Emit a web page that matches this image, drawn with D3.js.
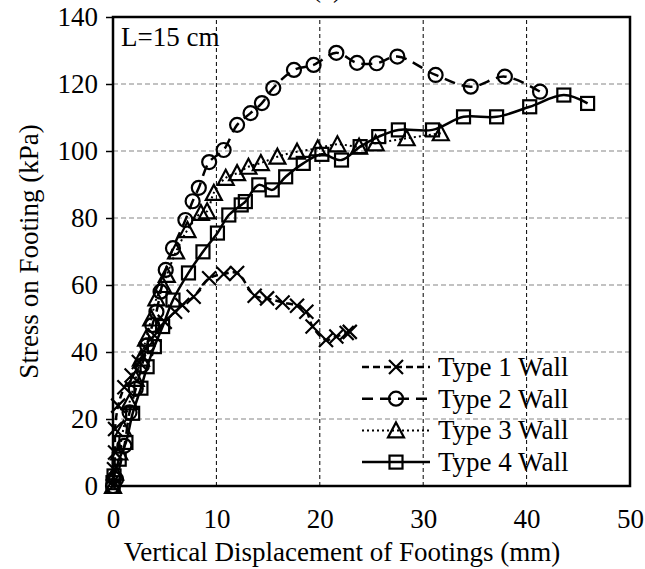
<!DOCTYPE html>
<html>
<head>
<meta charset="utf-8">
<script src="https://cdn.jsdelivr.net/npm/d3@7"></script>
<style>
  body { margin: 0; background: #fff; }
  svg text { font-family: "Liberation Serif", "Times New Roman", serif; fill: #000; }
</style>
</head>
<body>
<div id="chart"></div>
<script>
// displacement (mm) vs stress (kPa)
const type1 = [[0,0],[0.1,5],[0.2,10],[0.2,17],[0.5,24],[1.1,29.5],[1.8,33],[2.5,37],[3.2,41],[4.0,45],[5.0,49],[6.0,52],[6.7,54],[7.8,56.5],[9.3,62],[10.7,63.3],[12.0,63.6],[13.7,56.8],[14.9,56],[16.4,54.8],[17.8,53.8],[18.7,52],[19.3,47.6],[20.6,43.6],[21.6,44.6],[22.6,45.7],[22.9,46]];
const type2 = [[0,0],[0.3,2],[1.1,12],[1.6,22],[2.2,29],[2.8,36],[3.3,42],[3.8,48],[4.2,52],[4.6,58],[5.1,64.5],[5.8,71],[7.0,79.4],[7.7,85],[8.3,89],[9.3,96.7],[10.7,100.3],[12.0,107.8],[13.3,111.3],[14.4,114.3],[15.5,118.8],[17.5,124.2],[19.4,125.7],[21.6,129.3],[23.6,126.3],[25.5,126.2],[27.5,128.2],[31.2,122.7],[34.6,119.2],[37.9,122.2],[41.3,117.7]];
const type3 = [[0,0],[0.2,4],[0.6,10],[1.0,17],[1.6,25],[2.2,32],[2.7,38],[3.2,44],[3.7,50],[4.2,56],[4.8,60],[5.2,63],[6.1,70],[7.2,76.4],[8.5,81.5],[9.1,82],[9.75,87.5],[10.9,92],[12.0,93.4],[13.1,95.3],[14.3,96.4],[15.9,98.3],[17.8,99.8],[19.8,100.8],[21.7,102],[23.8,101.3],[25.4,102.3],[28.4,103.8],[31.7,105.3]];
const type4 = [[0,1],[0.1,3],[0.6,8],[1.25,13],[1.9,21.7],[2.7,29.2],[3.3,35.6],[4.0,41.6],[4.8,47.6],[5.8,55.5],[7.3,63.6],[8.7,69.9],[10.1,75.5],[11.2,80.9],[12.4,83.9],[12.8,84.9],[14.1,89.9],[15.4,88.4],[16.7,92.3],[18.4,96.3],[20.2,99],[22.1,97.3],[23.9,101.3],[25.7,104.3],[27.6,106.3],[30.9,106.3],[33.9,110.2],[37.1,110.2],[40.3,113.2],[43.6,116.7],[45.9,114.2]];

const seriesNames = ["Type 1 Wall", "Type 2 Wall", "Type 3 Wall", "Type 4 Wall"];
const xTicks = [0, 10, 20, 30, 40, 50];
const yTicks = [0, 20, 40, 60, 80, 100, 120, 140];

const width = 645, height = 569;
const margin = { top: 17, right: 15, bottom: 83, left: 113 };
const fontFamily = '"Liberation Serif", "Times New Roman", serif';

const svg = d3.select("#chart").append("svg")
    .attr("width", width)
    .attr("height", height);

const x = d3.scaleLinear().domain([0, 50]).range([margin.left, width - margin.right]);
const y = d3.scaleLinear().domain([0, 140]).range([height - margin.bottom, margin.top]);

// grid
svg.append("g")
    .selectAll("line")
    .data(yTicks.slice(1, -1))
    .enter().append("line")
    .attr("x1", x(0)).attr("x2", x(50))
    .attr("y1", d => y(d)).attr("y2", d => y(d))
    .attr("stroke", "#858585")
    .attr("stroke-width", 1)
    .attr("stroke-dasharray", "5,3");

svg.append("g")
    .selectAll("line")
    .data(xTicks.slice(1, -1))
    .enter().append("line")
    .attr("x1", d => x(d)).attr("x2", d => x(d))
    .attr("y1", y(0)).attr("y2", y(140))
    .attr("stroke", "#000")
    .attr("stroke-width", 1)
    .attr("stroke-dasharray", "4,3");

// axes
const yAxis = d3.axisLeft(y).tickValues(yTicks).tickSize(7).tickPadding(8);
svg.append("g")
    .attr("transform", `translate(${x(0)},0)`)
    .call(yAxis)
    .call(g => g.select(".domain").remove())
    .call(g => g.selectAll("line").attr("stroke-width", 1.5));

const xAxis = d3.axisBottom(x).tickValues(xTicks).tickSize(0).tickPadding(23);
svg.append("g")
    .attr("transform", `translate(0,${y(0)})`)
    .call(xAxis)
    .call(g => g.select(".domain").remove());

svg.selectAll(".tick text")
    .style("font-family", fontFamily)
    .style("font-size", "27px");

// frame
svg.append("rect")
    .attr("x", x(0)).attr("y", y(140))
    .attr("width", x(50) - x(0))
    .attr("height", y(0) - y(140))
    .attr("fill", "none")
    .attr("stroke", "#000")
    .attr("stroke-width", 2.5);

// labels
svg.append("text")
    .attr("x", 342)
    .attr("y", height - 8)
    .attr("text-anchor", "middle")
    .style("font-size", "27px")
    .text("Vertical Displacement of Footings (mm)");

svg.append("text")
    .attr("transform", `translate(38,${(y(0) + y(140)) / 2}) rotate(-90)`)
    .attr("text-anchor", "middle")
    .style("font-size", "27px")
    .text("Stress on Footing (kPa)");

svg.append("text")
    .attr("x", 327)
    .attr("y", -3)
    .attr("text-anchor", "middle")
    .style("font-size", "27px")
    .text("(c)");

svg.append("text")
    .attr("x", 121)
    .attr("y", 46)
    .style("font-size", "27px")
    .text("L=15 cm");

// series
const styles = [
    { data: type1, dash: "7,4", marker: "cross" },
    { data: type2, dash: "11,7", marker: "circle" },
    { data: type3, dash: "2,3", marker: "triangle" },
    { data: type4, dash: null, marker: "square" }
];

const line = d3.line()
    .x(d => x(d[0]))
    .y(d => y(d[1]))
    .curve(d3.curveCatmullRom.alpha(0.5));

function drawMarker(g, type, cx, cy) {
    const s = 7;
    if (type === "cross") {
        g.append("path")
            .attr("d", `M${cx - s},${cy - s}L${cx + s},${cy + s}M${cx - s},${cy + s}L${cx + s},${cy - s}`)
            .attr("stroke", "#000").attr("stroke-width", 2.2).attr("fill", "none");
    } else if (type === "circle") {
        g.append("circle")
            .attr("cx", cx).attr("cy", cy).attr("r", s)
            .attr("stroke", "#000").attr("stroke-width", 2.2).attr("fill", "none");
    } else if (type === "triangle") {
        g.append("path")
            .attr("d", `M${cx},${cy - s - 1}L${cx + s + 1},${cy + s}L${cx - s - 1},${cy + s}Z`)
            .attr("stroke", "#000").attr("stroke-width", 2.2).attr("fill", "none");
    } else {
        g.append("rect")
            .attr("x", cx - s + 0.5).attr("y", cy - s + 0.5)
            .attr("width", 2 * s - 1).attr("height", 2 * s - 1)
            .attr("stroke", "#000").attr("stroke-width", 2.2).attr("fill", "none");
    }
}

styles.forEach(st => {
    svg.append("path")
        .datum(st.data)
        .attr("d", line)
        .attr("fill", "none")
        .attr("stroke", "#000")
        .attr("stroke-width", st.marker === "triangle" ? 2 : 2.5)
        .attr("stroke-dasharray", st.dash);
    const g = svg.append("g");
    st.data.forEach(d => drawMarker(g, st.marker, x(d[0]), y(d[1])));
});

// legend
const legend = svg.append("g");
const legendX1 = 362, legendX2 = 430, legendY0 = 367, legendStep = 31.7;
styles.forEach((st, i) => {
    const ly = legendY0 + i * legendStep;
    legend.append("line")
        .attr("x1", legendX1).attr("x2", legendX2)
        .attr("y1", ly).attr("y2", ly)
        .attr("stroke", "#000")
        .attr("stroke-width", st.marker === "triangle" ? 2 : 2.5)
        .attr("stroke-dasharray", st.dash);
    drawMarker(legend, st.marker, (legendX1 + legendX2) / 2, ly);
    legend.append("text")
        .attr("x", 438)
        .attr("y", ly + 9)
        .style("font-size", "27px")
        .text(seriesNames[i]);
});
</script>
</body>
</html>
